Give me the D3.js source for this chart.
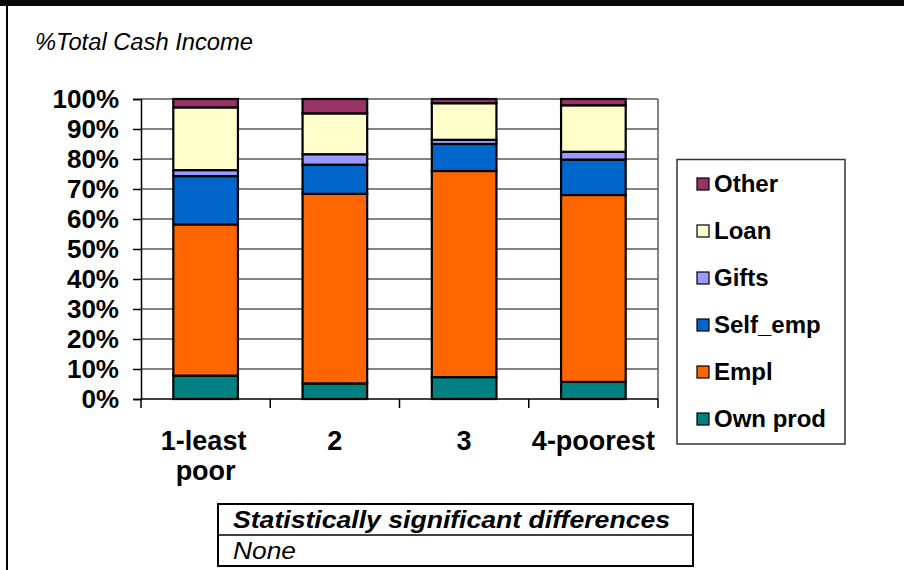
<!DOCTYPE html>
<html><head><meta charset="utf-8">
<script src="https://cdn.jsdelivr.net/npm/d3@7"></script>
<style>body{margin:0;background:#fff}svg{display:block}text{font-family:"Liberation Sans",Arial,sans-serif}</style>
</head><body>
<svg id="c" width="904" height="570"></svg>
<script>
const categories = ["1-least poor", "2", "3", "4-poorest"];
const seriesNames = ["Own prod", "Empl", "Self_emp", "Gifts", "Loan", "Other"];
const ownProd = [7.8, 5.2, 7.3, 5.7];
const empl = [50.4, 63.2, 68.7, 62.3];
const selfEmp = [16.1, 9.7, 9.0, 11.8];
const gifts = [2.0, 3.5, 1.4, 2.6];
const loan = [20.9, 13.6, 12.2, 15.5];
const other = [2.8, 4.8, 1.4, 2.1];
const yTicks = [0, 10, 20, 30, 40, 50, 60, 70, 80, 90, 100];
const colors = ["#008080", "#FF6600", "#0066CC", "#9999FF", "#FFFFCC", "#993366"];
const titleText = "%Total Cash Income";
const tableHeader = "Statistically significant differences";
const tableBody = "None";

const seriesVals = [ownProd, empl, selfEmp, gifts, loan, other];
const rows = categories.map((c, i) => {
  const r = {cat: c};
  seriesNames.forEach((s, j) => r[s] = seriesVals[j][i]);
  return r;
});
const stacked = d3.stack().keys(seriesNames)(rows);

const svg = d3.select("#c");
// frame
svg.append("rect").attr("x", 0).attr("y", 0).attr("width", 904).attr("height", 6).attr("fill", "#0a0a0a");
svg.append("rect").attr("x", 6).attr("y", 0).attr("width", 2).attr("height", 570).attr("fill", "#000");

svg.append("text").attr("x", 35).attr("y", 50).attr("font-size", 23).attr("font-style", "italic")
  .attr("textLength", 218).attr("lengthAdjust", "spacingAndGlyphs").text(titleText);

const L = 141, R = 658, T = 99, B = 399;
const x = d3.scaleBand().domain(categories).range([L, R]).paddingInner(0.5).paddingOuter(0.25);
const y = d3.scaleLinear().domain([0, 100]).range([B, T]);

// gridlines
svg.append("g").selectAll("line").data(yTicks.filter(t => t > 0)).join("line")
  .attr("x1", L).attr("x2", R).attr("y1", d => y(d)).attr("y2", d => y(d))
  .attr("stroke", "#5a5a5a").attr("stroke-width", 1.5);
// right border of plot
svg.append("line").attr("x1", R).attr("x2", R).attr("y1", T).attr("y2", B).attr("stroke", "#5a5a5a").attr("stroke-width", 1.5);

// bars
const g = svg.append("g");
stacked.forEach((s, j) => {
  g.append("g").selectAll("rect").data(s).join("rect")
    .attr("x", d => x(d.data.cat))
    .attr("width", x.bandwidth())
    .attr("y", d => y(d[1]))
    .attr("height", d => y(d[0]) - y(d[1]))
    .attr("fill", colors[j]).attr("stroke", "#000").attr("stroke-width", 2.2);
});

// y axis
const ya = svg.append("g").attr("transform", `translate(${L},0)`)
  .call(d3.axisLeft(y).tickValues(yTicks).tickFormat(d => d + "%").tickSize(8).tickPadding(14));
ya.select(".domain").attr("stroke", "#000").attr("stroke-width", 1.5);
ya.selectAll(".tick line").attr("stroke", "#000").attr("stroke-width", 1.5);
ya.selectAll(".tick text").attr("font-size", 26).attr("font-weight", "bold").attr("fill", "#000")
  .attr("font-family", "Liberation Sans, Arial, sans-serif");

// x axis
const bounds = d3.range(categories.length + 1).map(i => L + i * (R - L) / categories.length);
svg.append("line").attr("x1", L).attr("x2", R).attr("y1", B).attr("y2", B).attr("stroke", "#000").attr("stroke-width", 1.5);
svg.append("g").selectAll("line").data(bounds).join("line")
  .attr("x1", d => d).attr("x2", d => d).attr("y1", B).attr("y2", B + 9)
  .attr("stroke", "#000").attr("stroke-width", 1.5);
const xl = svg.append("g").selectAll("text").data(categories).join("text")
  .attr("text-anchor", "middle").attr("font-size", 27).attr("font-weight", "bold")
  .attr("x", d => x(d) + x.bandwidth() / 2).attr("y", 450);
xl.each(function(d) {
  const parts = d === "1-least poor" ? ["1-least", "poor"] : [d];
  const t = d3.select(this);
  parts.forEach((p, i) => t.append("tspan").attr("x", x(d) + x.bandwidth() / 2 - (i === 0 && parts.length > 1 ? 2 : 0)).attr("dy", i === 0 ? 0 : 30).text(p));
});

// legend
const lg = svg.append("g");
lg.append("rect").attr("x", 677).attr("y", 159.5).attr("width", 168).attr("height", 284.5)
  .attr("fill", "#fff").attr("stroke", "#333").attr("stroke-width", 1.5);
const legendOrder = seriesNames.map((s, j) => ({s, c: colors[j]})).reverse();
const li = lg.selectAll("g.li").data(legendOrder).join("g").attr("class", "li")
  .attr("transform", (d, i) => `translate(0,${184 + i * 47})`);
li.append("rect").attr("x", 697).attr("y", -6).attr("width", 12).attr("height", 12)
  .attr("fill", d => d.c).attr("stroke", "#000").attr("stroke-width", 1.2);
li.append("text").attr("x", 714).attr("y", 8).attr("font-size", 24).attr("font-weight", "bold").text(d => d.s);

// table
const tb = svg.append("g");
tb.append("rect").attr("x", 218).attr("y", 504).attr("width", 475).attr("height", 62)
  .attr("fill", "#fff").attr("stroke", "#000").attr("stroke-width", 2);
tb.append("line").attr("x1", 218).attr("x2", 693).attr("y1", 535).attr("y2", 535).attr("stroke", "#000").attr("stroke-width", 1.5);
tb.append("text").attr("x", 233).attr("y", 528).attr("font-size", 24).attr("font-weight", "bold").attr("font-style", "italic")
  .attr("textLength", 437).attr("lengthAdjust", "spacingAndGlyphs").text(tableHeader);
tb.append("text").attr("x", 233).attr("y", 559).attr("font-size", 23).attr("font-style", "italic")
  .attr("textLength", 63).attr("lengthAdjust", "spacingAndGlyphs").text(tableBody);
</script>
</body></html>
